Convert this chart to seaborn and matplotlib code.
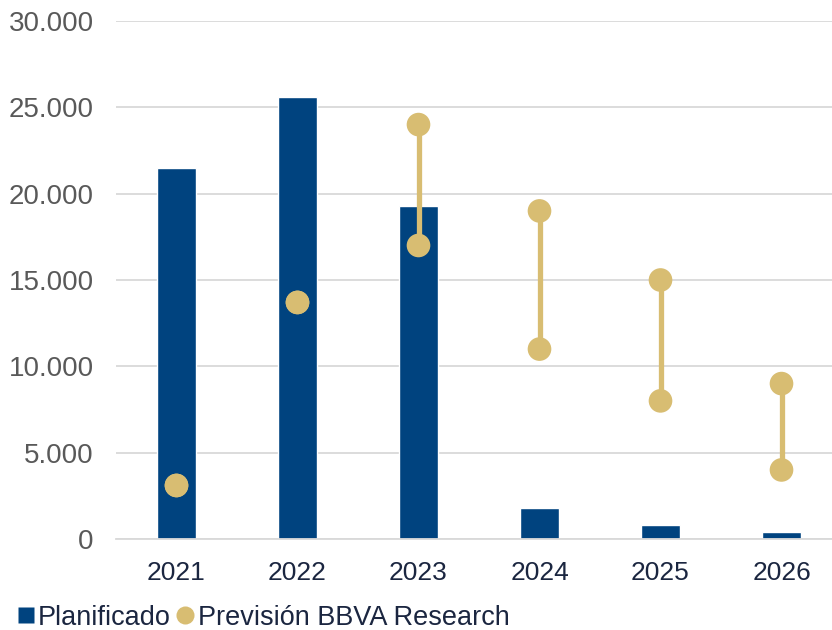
import matplotlib
matplotlib.use("Agg")
import matplotlib.pyplot as plt
from matplotlib.ticker import FuncFormatter
from matplotlib.lines import Line2D
import seaborn as sns
import pandas as pd

years = ["2021", "2022", "2023", "2024", "2025", "2026"]
planificado = [21500, 25600, 19300, 1800, 800, 400]
prev_low = [3100, 13700, 17000, 11000, 8000, 4000]
prev_high = [3100, 13700, 24000, 19000, 15000, 9000]

navy = "#00437f"
gold = "#d8bd72"
grid_col = "#d9d9d9"
text_dark = "#1b2640"
text_gray = "#595959"

sns.set_style("white")
plt.rcParams["font.family"] = ["Liberation Sans", "DejaVu Sans"]

df = pd.DataFrame({"year": years, "plan": planificado, "low": prev_low, "high": prev_high})

fig = plt.figure(figsize=(8.32, 6.3), dpi=100)
ax = fig.add_axes([116 / 832, 91 / 630, 726 / 832, 518 / 630])

sns.barplot(data=df, x="year", y="plan", color=navy, width=0.33, saturation=1,
            ax=ax, zorder=2)

pos = list(range(len(years)))
rng = df[df["high"] > df["low"]]
ax.vlines([pos[years.index(y)] for y in rng["year"]], rng["low"], rng["high"],
          color=gold, lw=3.8, zorder=3)
pts = pd.concat([df[["low"]].rename(columns={"low": "v"}).assign(x=pos),
                 df[["high"]].rename(columns={"high": "v"}).assign(x=pos)])
sns.scatterplot(data=pts, x="x", y="v", color=gold, s=290, edgecolor="none",
                ax=ax, zorder=4)

ax.set_xlim(-0.5, 5.5)
ax.set_ylim(0, 30000)
ax.set_yticks(range(0, 30001, 5000))
ax.yaxis.set_major_formatter(FuncFormatter(lambda v, p: f"{int(v):,}".replace(",", ".")))
ax.yaxis.grid(True, color=grid_col, lw=1.3, zorder=0)
ax.set_axisbelow(True)
ax.set_xlabel("")
ax.set_ylabel("")

for s in ["left", "right", "top"]:
    ax.spines[s].set_visible(False)
ax.spines["bottom"].set_color(grid_col)
ax.spines["bottom"].set_linewidth(1.3)

ax.set_xticks(pos)
ax.set_xticklabels(years)
ax.set_xticks([p - 0.5 for p in pos] + [5.5], minor=True)
ax.tick_params(axis="x", which="major", length=0, pad=16, labelsize=19, labelcolor=text_dark)
ax.tick_params(axis="x", which="minor", length=9, width=1.3, color=grid_col)
ax.tick_params(axis="y", length=0, pad=16, labelsize=20, labelcolor=text_gray)

handles = [
    Line2D([], [], marker="s", color="none", markerfacecolor=navy, markeredgecolor="none", markersize=11),
    Line2D([], [], marker="o", color="none", markerfacecolor=gold, markeredgecolor="none", markersize=13),
]
fig.legend(handles, ["Planificado", "Previsión BBVA Research"], loc="lower left",
           bbox_to_anchor=(-0.01, -0.04), ncol=2, frameon=False, fontsize=19.5,
           handlelength=0.7, handletextpad=0.1, columnspacing=0.2, labelcolor=text_dark)

fig.savefig("out.png", dpi=100)
